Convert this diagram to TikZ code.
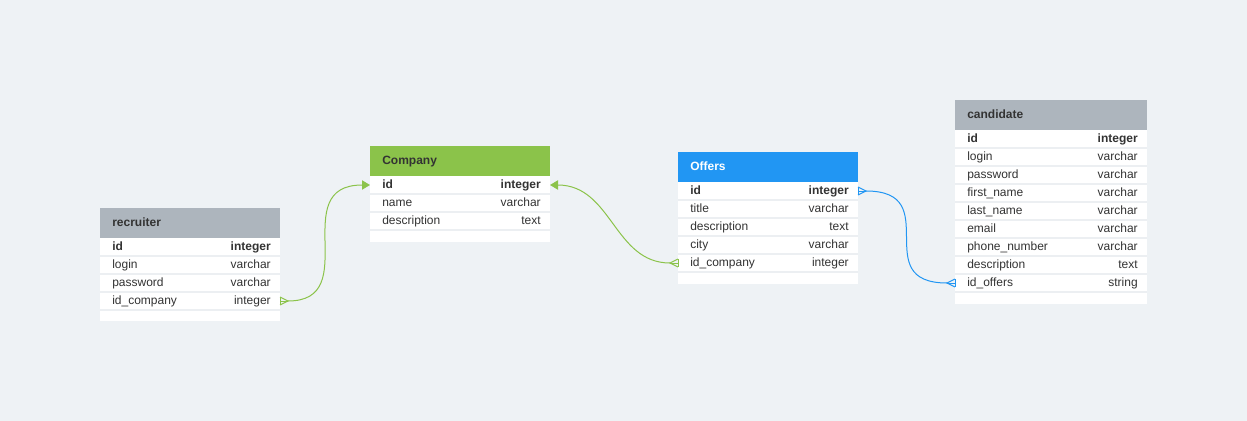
\documentclass[tikz,border=0pt]{standalone}
\usepackage{fontspec}
\setmainfont{Liberation Sans}
\usetikzlibrary{arrows.meta,calc}
\definecolor{bgc}{HTML}{EEF2F5}
\definecolor{grayhdr}{HTML}{ADB5BD}
\definecolor{greenhdr}{HTML}{8BC34A}
\definecolor{bluehdr}{HTML}{2196F3}
\definecolor{txt}{HTML}{333333}
\definecolor{sepc}{HTML}{ECEFF2}
\tikzset{
  hdr/.style={draw=none, inner sep=0pt, outer sep=0pt, minimum height=22.5pt},
  hdrtext/.style={font=\fontsize{9}{11}\selectfont\bfseries, inner sep=0pt, text height=6.6pt, text depth=1.9pt},
  bodybox/.style={fill=white, draw=none, inner sep=0pt, outer sep=0pt},
  rowbox/.style={draw=none, inner sep=0pt, outer sep=0pt, minimum height=13.5pt},
  fieldtext/.style={font=\fontsize{9}{11}\selectfont, text=txt, inner sep=0pt, text height=6.6pt, text depth=1.9pt},
  sepline/.style={draw=sepc, line width=1.3pt},
  linkgreen/.style={draw=greenhdr, line width=0.75pt},
  linkblue/.style={draw=bluehdr, line width=0.75pt},
  arrowend/.style={-{Triangle[length=6pt,width=7pt]}},
}
% #1 name, #2 x, #3 y, #4 width, #5 header fill, #6 header text colour, #7 title, #8 body height, #9 rows
\newcommand\ertable[9]{%
  \node[hdr, fill=#5, minimum width=#4*0.75pt, anchor=north west] (#1-h) at (#2,#3) {};
  \node[hdrtext, text=#6, anchor=west] (#1-t) at ([xshift=9pt]#1-h.west) {#7};
  \node[bodybox, minimum width=#4*0.75pt, minimum height=#8*0.75pt, anchor=north west] (#1-b) at (#2,#3+30) {};
  \foreach \f/\t [count=\i] in {#9} {
    \node[rowbox, minimum width=#4*0.75pt, anchor=north west] (#1-\i) at (#2,#3+30+18*\i-18) {};
    \draw[sepline] (#1-\i.south west) -- (#1-\i.south east);
    \node[fieldtext, anchor=west] (#1-\i-n) at ([xshift=9pt]#1-\i.west) {\ifnum\i=1 \bfseries\fi\f};
    \node[fieldtext, anchor=east] (#1-\i-y) at ([xshift=-6.75pt]#1-\i.east) {\ifnum\i=1 \bfseries\fi\t};
  }%
}
% crow's foot: #1 = edge point, #2 = direction (+1 right, -1 left), #3 style
\newcommand\crowfoot[3]{%
  \draw[#3] ($(#1)+(0,-4)$) -- ($(#1)+(8*#2,0)$) -- ($(#1)+(0,4)$);
  \draw[#3] (#1) -- ($(#1)+(8*#2,0)$);
  \draw[#3] ($(#1)+(0,-4)$) -- ($(#1)+(0,4)$);
}
\begin{document}
\begin{tikzpicture}[x=0.75pt,y=-0.75pt]
\fill[bgc] (0,0) rectangle (1247,421);
\useasboundingbox (0,0) rectangle (1247,421);

\ertable{rec}{100}{208}{180}{grayhdr}{txt}{recruiter}{83}{id/integer, login/varchar, password/varchar, id\_company/integer}
\ertable{com}{370}{146}{180}{greenhdr}{txt}{Company}{66}{id/integer, name/varchar, description/text}
\ertable{off}{678}{152}{180}{bluehdr}{white}{Offers}{102}{id/integer, title/varchar, description/text, city/varchar, id\_company/integer}
\ertable{can}{955}{100}{192}{grayhdr}{txt}{candidate}{174}{id/integer, login/varchar, password/varchar, first\_name/varchar, last\_name/varchar, email/varchar, phone\_number/varchar, description/text, id\_offers/string}

% crow's feet
\coordinate (e1) at (rec-4.east);
\coordinate (e2) at (off-5.west);
\coordinate (e3) at (off-1.east);
\coordinate (e4) at (can-9.west);
\crowfoot{e1}{1}{linkgreen}
\crowfoot{e2}{-1}{linkgreen}
\crowfoot{e3}{1}{linkblue}
\crowfoot{e4}{-1}{linkblue}
\coordinate (c1) at ($(e1)+(8,0)$);
\coordinate (c2) at ($(e2)+(-8,0)$);
\coordinate (c3) at ($(e3)+(8,0)$);
\coordinate (c4) at ($(e4)+(-8,0)$);

% connectors
\draw[linkgreen, arrowend] (c1) .. controls +(76,0) and +(-84,0) .. (com-1.west);
\draw[linkgreen, arrowend] (c2) .. controls +(-56,0) and +(62,0) .. (com-1.east);
\draw[linkblue] (c3) .. controls +(80,0) and +(-80,0) .. (c4);
\end{tikzpicture}
\end{document}
